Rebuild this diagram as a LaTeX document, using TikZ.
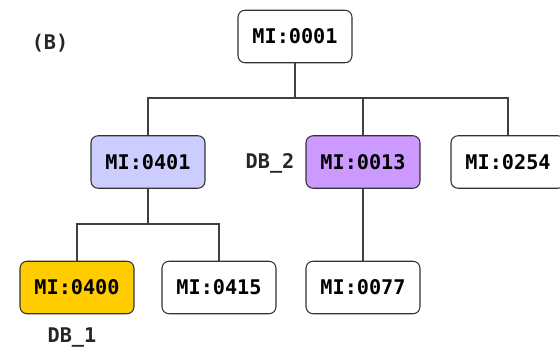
\documentclass[tikz,border=0pt]{standalone}
\usepackage{fontspec}
\setmonofont{DejaVu Sans Mono}
\usepackage{tikz}
\usetikzlibrary{positioning}
\usepackage{xcolor}
\definecolor{dbblue}{HTML}{CCCCFF}
\definecolor{dbpurple}{HTML}{CC99FF}
\definecolor{dbgold}{HTML}{FFCC00}
\tikzset{
    mibox/.style={
        draw=black!80,
        rounded corners=4pt,
        fill=white,
        line width=0.6pt,
        minimum width=2.28cm,
        minimum height=1.05cm,
        inner sep=1pt,
        font=\ttfamily\bfseries\fontsize{11.5}{13}\selectfont
    },
    dblabel/.style={
        font=\ttfamily\bfseries\fontsize{11.5}{13}\selectfont,
        text=black!85
    },
    tree/.style={
        draw=black!75,
        line width=0.8pt
    }
}

\begin{document}
\begin{tikzpicture}[x=0.02cm, y=0.02cm]
  \useasboundingbox (0,0) rectangle (560,350);

  % Panel tag
  \node[dblabel] (tag) at (50,307) {(B)};

  % Terms
  \node[mibox] (n0001) at (295,313.5) {MI:0001};
  \node[mibox, fill=dbblue] (n0401) at (148,188) {MI:0401};
  \node[mibox, fill=dbpurple] (n0013) at (363,188) {MI:0013};
  \node[mibox] (n0254) at (508,188) {MI:0254};
  \node[mibox, fill=dbgold] (n0400) at (77,62.5) {MI:0400};
  \node[mibox] (n0415) at (219,62.5) {MI:0415};
  \node[mibox] (n0077) at (363,62.5) {MI:0077};

  % Database labels
  \node[dblabel] (db2) at (270,187) {DB\_2};
  \node[dblabel] (db1) at (72,12) {DB\_1};

  % Branch points
  \coordinate (bus) at (295,252);
  \coordinate (subbus) at (148,126);

  % Edges
  \draw[tree] (n0001.south) -- (bus);
  \draw[tree] (bus) -| (n0401.north);
  \draw[tree] (bus) -| (n0013.north);
  \draw[tree] (bus) -| (n0254.north);
  \draw[tree] (n0401.south) -- (subbus);
  \draw[tree] (subbus) -| (n0400.north);
  \draw[tree] (subbus) -| (n0415.north);
  \draw[tree] (n0013.south) -- (n0077.north);
\end{tikzpicture}
\end{document}
